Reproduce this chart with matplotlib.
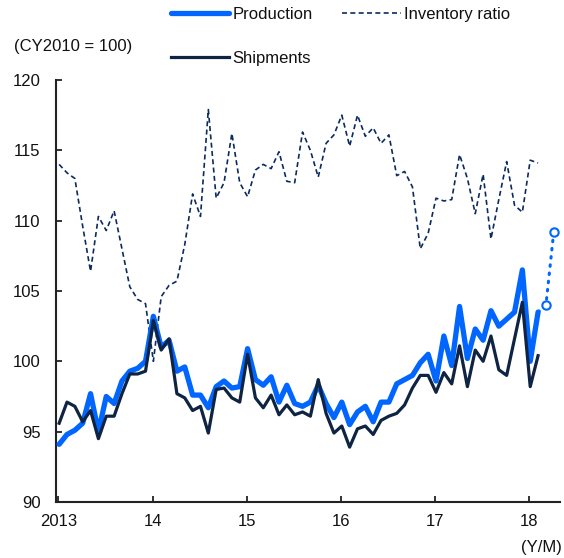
import matplotlib
matplotlib.use("Agg")
import matplotlib.pyplot as plt
from matplotlib.lines import Line2D
import numpy as np

plt.rcParams['font.family'] = ['Liberation Sans', 'DejaVu Sans']

# -------------------------
# DATA (monthly, Jan 2013 - Feb 2018)
# -------------------------
production = [94.1, 94.8, 95.1, 95.6, 97.7, 95.0, 97.5, 97.0, 98.6, 99.3,
              99.5, 100.0, 103.2, 101.0, 101.5, 99.3, 99.6, 97.6, 97.6, 96.7,
              98.2, 98.6, 98.1, 98.2, 100.9, 98.7, 98.3, 98.9, 97.1, 98.3,
              97.0, 96.8, 97.1, 98.3, 97.0, 96.0, 97.1, 95.5, 96.4, 96.8,
              95.7, 97.1, 97.1, 98.4, 98.7, 99.0, 99.9, 100.5, 98.6, 101.8,
              99.7, 103.9, 100.2, 102.3, 101.5, 103.6, 102.5, 103.0, 103.5, 106.5,
              100.0, 103.5]
shipments = [95.6, 97.1, 96.8, 95.7, 96.5, 94.5, 96.1, 96.1, 97.7, 99.1,
             99.1, 99.3, 102.9, 100.8, 101.6, 97.7, 97.4, 96.5, 96.8, 94.9,
             98.0, 98.1, 97.4, 97.1, 100.5, 97.4, 96.7, 97.6, 96.2, 96.9,
             96.2, 96.4, 96.1, 98.7, 96.3, 94.9, 95.4, 93.9, 95.2, 95.4,
             94.8, 95.8, 96.1, 96.3, 96.9, 98.1, 99.0, 99.0, 97.8, 99.2,
             98.4, 101.1, 98.2, 100.8, 100.0, 101.8, 99.4, 99.0, 101.6, 104.2,
             98.2, 100.4]
inventory_ratio = [114.0, 113.4, 113.0, 109.6, 106.4, 110.3, 109.3, 110.7, 108.0, 105.3,
                   104.4, 104.1, 100.0, 104.6, 105.4, 105.7, 108.3, 111.9, 110.3, 117.9,
                   111.6, 112.7, 116.2, 112.7, 111.7, 113.6, 114.0, 113.7, 114.9, 112.8,
                   112.7, 116.3, 115.0, 113.1, 115.5, 116.1, 117.5, 115.3, 117.5, 116.0,
                   116.6, 115.5, 116.1, 113.2, 113.5, 112.4, 108.0, 109.1, 111.6, 111.4,
                   111.5, 114.7, 113.0, 110.5, 113.3, 108.7, 111.5, 114.2, 111.1, 110.6,
                   114.3, 114.1]
# production forecast: Mar, Apr 2018
forecast = [104.0, 109.2]

year_labels = ["2013", "14", "15", "16", "17", "18"]

# -------------------------
# CHART
# -------------------------
blue = "#0066FF"
navy = "#0E2442"
dash_navy = "#0B2B5E"
txt = "#111111"

fig = plt.figure(figsize=(5.64, 5.58), dpi=100)
ax = fig.add_axes([0.0993, 0.1004, 0.8937, 0.7562])

x = np.arange(len(production))
x_fc = np.arange(len(production) - 1, len(production) + len(forecast))

l_prod, = ax.plot(x, production, color=blue, lw=3.8, solid_joinstyle="round",
                  solid_capstyle="round", label="Production", zorder=3)
l_ship, = ax.plot(x, shipments, color=navy, lw=2.3, label="Shipments", zorder=4)
l_inv, = ax.plot(x, inventory_ratio, color=dash_navy, lw=1.2, ls=(0, (3, 2)),
                 label="Inventory ratio", zorder=2)
ax.plot(x_fc, [production[-1]] + forecast, color=blue, lw=2.2, ls=(0, (0.5, 2.2)),
        dash_capstyle="round", zorder=3)
ax.plot(x_fc[1:], forecast, ls="none", marker="o", ms=6, mfc="white",
        mec=blue, mew=1.5, zorder=5)

ax.set_xlim(-0.4, 63.8)
ax.set_ylim(90, 120)
ax.set_yticks(np.arange(90, 121, 5))
ax.set_xticks(np.arange(len(year_labels)) * 12 - 0.1)
ax.set_xticklabels(year_labels)

for side in ["top", "right"]:
    ax.spines[side].set_visible(False)
for side in ["left", "bottom"]:
    ax.spines[side].set_linewidth(1.5)
    ax.spines[side].set_color("#222222")

ax.tick_params(axis="both", direction="in", length=4, width=1.3,
               color="#222222", labelsize=12, labelcolor=txt)
ax.tick_params(axis="y", pad=11)
ax.tick_params(axis="x", pad=9)

blank = Line2D([], [], color="none")
fig.legend(handles=[l_prod, l_ship, l_inv, blank],
           labels=["Production", "Shipments", "Inventory ratio", ""],
           ncol=2, loc="upper left", bbox_to_anchor=(0.303, 0.988),
           frameon=False, fontsize=12, handlelength=3.5, handletextpad=0.18,
           columnspacing=1.8, labelspacing=1.75, borderpad=0, borderaxespad=0,
           labelcolor=txt)

fig.text(0.024, 0.917, "(CY2010 = 100)", fontsize=12, va="center", ha="left",
         color=txt)
fig.text(0.997, 0.019, "(Y/M)", fontsize=12, va="center", ha="right",
         color=txt)

fig.savefig("out.png", dpi=100)
